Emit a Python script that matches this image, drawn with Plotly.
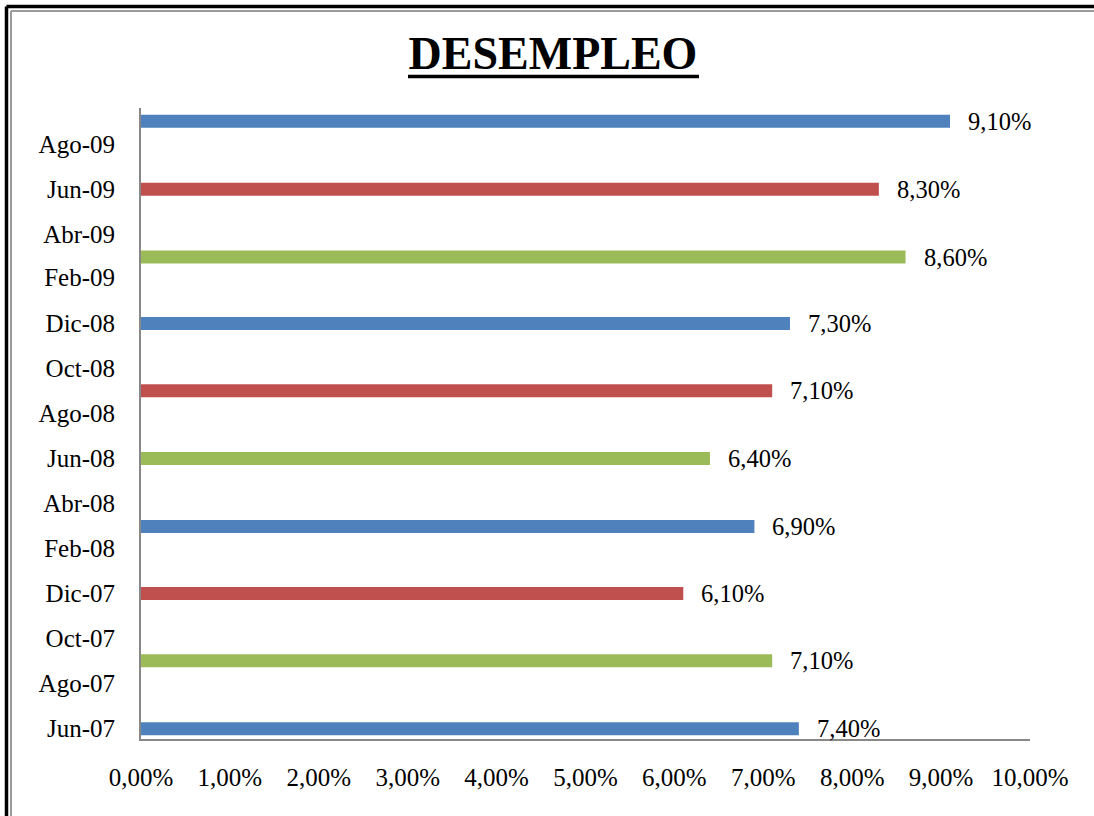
import plotly.graph_objects as go

# ---- data ----
fechas = ["2007-06-01", "2007-09-01", "2007-12-01", "2008-03-01", "2008-06-01",
          "2008-09-01", "2008-12-01", "2009-03-01", "2009-06-01", "2009-09-01"]
desempleo = [7.40, 7.10, 6.10, 6.90, 6.40, 7.10, 7.30, 8.60, 8.30, 9.10]
colores = ["#4F81BD", "#9BBB59", "#C0504D", "#4F81BD", "#9BBB59",
           "#C0504D", "#4F81BD", "#9BBB59", "#C0504D", "#4F81BD"]
tick_fechas = ["2007-06-01", "2007-08-01", "2007-10-01", "2007-12-01", "2008-02-01",
               "2008-04-01", "2008-06-01", "2008-08-01", "2008-10-01", "2008-12-01",
               "2009-02-01", "2009-04-01", "2009-06-01", "2009-08-01"]
tick_textos = ["Jun-07", "Ago-07", "Oct-07", "Dic-07", "Feb-08", "Abr-08", "Jun-08",
               "Ago-08", "Oct-08", "Dic-08", "Feb-09", "Abr-09", "Jun-09", "Ago-09"]
x_ticks = [0, 1, 2, 3, 4, 5, 6, 7, 8, 9, 10]
x_tick_textos = ["0,00%", "1,00%", "2,00%", "3,00%", "4,00%", "5,00%",
                 "6,00%", "7,00%", "8,00%", "9,00%", "10,00%"]

W, H = 1094, 816
L, R, T, B = 141, 1030, 108, 739
FONT = "Liberation Serif, Times New Roman, serif"

fig = go.Figure()
fig.add_trace(go.Bar(
    x=desempleo, y=fechas, orientation="h",
    marker=dict(color=colores, line=dict(width=0)),
    width=17.6 * 86400000,
    hoverinfo="skip",
))

for v, d in zip(desempleo, fechas):
    fig.add_annotation(
        x=v, y=d, xref="x", yref="y",
        text=f"{v:.2f}%".replace(".", ","),
        showarrow=False, xanchor="left", yanchor="middle",
        xshift=16, yshift=0,
        font=dict(family=FONT, size=24.5, color="black"),
    )

def px_x(p):
    return (p - L) / (R - L)

def px_y(p):
    return (B - p) / (B - T)

# outer frame (black + gray), cropped on the right and bottom
frame = [
    (6.5, 6.5, 6.5, 830, "black", 3.5),
    (6.5, 6.5, 1110, 6.5, "black", 3.5),
    (11, 11, 11, 830, "#9a9a9a", 2),
    (11, 11, 1110, 11, "#9a9a9a", 2),
    (408, 76.5, 699, 76.5, "black", 3.5),   # title underline
]
for x0, y0, x1, y1, c, w in frame:
    fig.add_shape(type="line", xref="paper", yref="paper",
                  x0=px_x(x0), y0=px_y(y0), x1=px_x(x1), y1=px_y(y1),
                  line=dict(color=c, width=w), layer="above")

fig.update_layout(
    width=W, height=H,
    margin=dict(l=L, r=W - R, t=T, b=H - B, pad=0),
    paper_bgcolor="white", plot_bgcolor="white",
    showlegend=False,
    title=dict(
        text="<b>DESEMPLEO</b>",
        font=dict(family=FONT, size=46, color="black"),
        x=553 / W, xref="container", xanchor="center",
        y=1 - 53 / H, yref="container", yanchor="middle",
    ),
    xaxis=dict(
        range=[0, 10], tickmode="array", tickvals=x_ticks, ticktext=x_tick_textos,
        showgrid=False, zeroline=False, showline=True,
        linecolor="#888888", linewidth=2, ticks="",
        ticklabelstandoff=15,
        tickfont=dict(family=FONT, size=25, color="black"),
    ),
    yaxis=dict(
        type="date", range=["2007-05-18", "2009-09-19"],
        tickvals=tick_fechas, ticktext=tick_textos,
        showgrid=False, zeroline=False, showline=True,
        linecolor="#888888", linewidth=2, ticks="",
        ticklabelstandoff=19,
        tickfont=dict(family=FONT, size=25, color="black"),
    ),
)

fig.write_html("out.html")
